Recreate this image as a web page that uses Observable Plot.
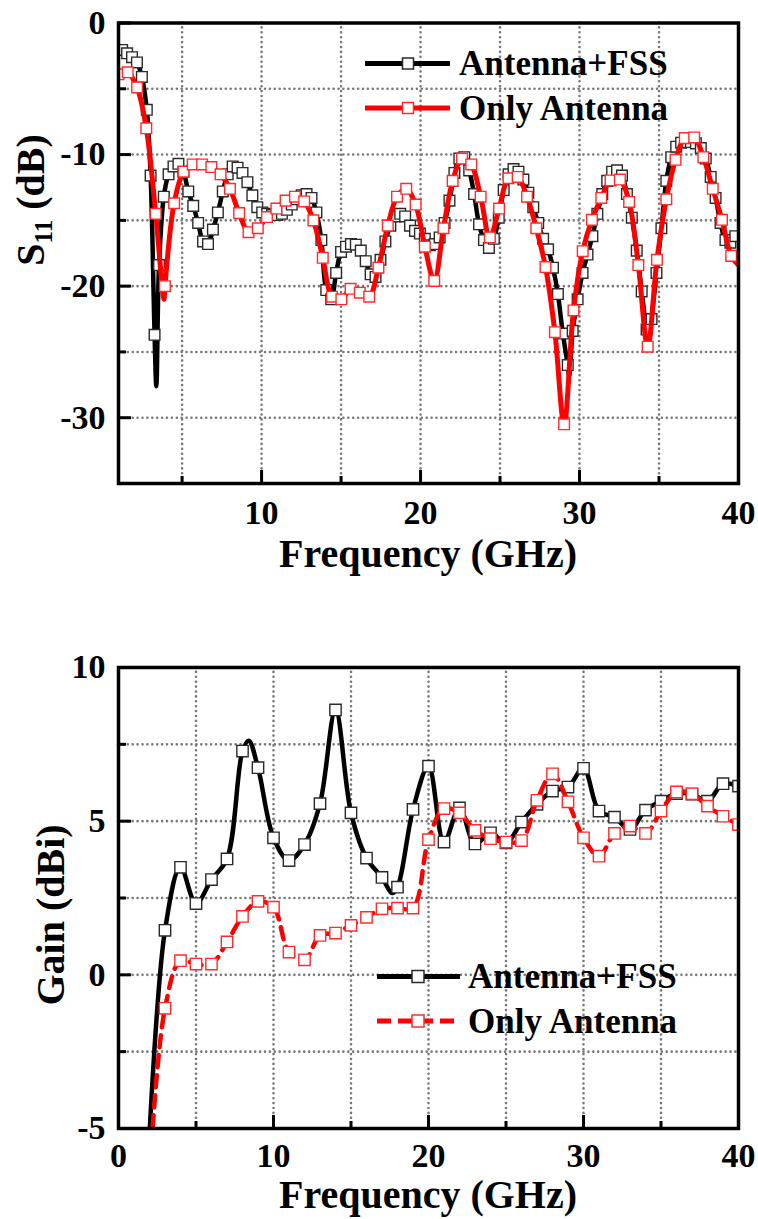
<!DOCTYPE html>
<html><head><meta charset="utf-8">
<script src="https://cdn.jsdelivr.net/npm/d3@7"></script>
<script src="https://cdn.jsdelivr.net/npm/@observablehq/plot@0.6"></script>
<style>
html,body{margin:0;padding:0;background:#fff;}
#chart{width:758px;}
#chart svg{display:block;}
</style></head><body><div id="chart"></div>
<script>
const FONT = "'Liberation Serif','Times New Roman',serif";
const seriesNames = ["Antenna+FSS", "Only Antenna"];

// ---------- Top panel: S11 (dB) ----------
const s11FssFreq = [1.23,1.54,1.85,2.16,2.47,2.78,3.02,3.27,3.55,3.85,4.15,4.46,4.77,5.08,5.39,5.70,6.01,6.32,6.63,6.94,7.25,7.56,7.87,8.18,8.49,8.80,9.11,9.42,9.73,10.04,10.35,10.66,10.97,11.28,11.59,11.90,12.21,12.52,12.83,13.14,13.45,13.76,14.07,14.38,14.69,15.00,15.31,15.62,15.93,16.24,16.55,16.86,17.17,17.48,17.79,18.10,18.41,18.72,19.03,19.34,19.65,19.96,20.27,20.58,20.89,21.20,21.51,21.82,22.13,22.44,22.75,23.06,23.37,23.68,23.99,24.30,24.61,24.92,25.23,25.54,25.85,26.16,26.47,26.78,27.09,27.40,27.71,28.02,28.33,28.64,28.95,29.26,29.57,29.88,30.19,30.50,30.81,31.12,31.43,31.74,32.05,32.36,32.67,32.98,33.29,33.60,33.91,34.22,34.53,34.84,35.15,35.46,35.77,36.08,36.39,36.70,37.01,37.32,37.63,37.94,38.25,38.56,38.87,39.18,39.49,39.80];
const s11FssDb = [-2.05,-2.3,-2.6,-3.0,-4.1,-6.6,-11.6,-23.7,-18.4,-13.2,-11.5,-10.9,-10.7,-11.3,-12.8,-13.9,-15.2,-16.6,-16.8,-15.7,-14.4,-12.8,-11.5,-10.9,-11.0,-11.4,-12.1,-13.1,-14.0,-14.4,-14.5,-14.6,-14.6,-14.5,-14.2,-13.8,-13.4,-13.1,-13.0,-13.3,-14.4,-16.5,-20.3,-21.0,-19.0,-17.4,-17.0,-16.8,-16.85,-17.3,-18.1,-19.1,-19.3,-18.0,-16.6,-15.4,-14.7,-14.5,-14.7,-15.4,-15.8,-16.0,-16.4,-16.9,-16.8,-16.3,-15.2,-13.5,-11.4,-10.3,-10.2,-11.2,-13.0,-15.3,-16.5,-17.1,-16.4,-14.8,-12.7,-11.5,-11.1,-11.3,-11.9,-12.9,-14.0,-15.2,-16.4,-17.2,-18.6,-20.6,-23.6,-26.0,-23.4,-21.0,-19.0,-17.6,-16.2,-14.5,-13.0,-12.0,-11.3,-11.2,-11.6,-13.0,-14.8,-17.3,-20.4,-23.3,-22.5,-19.0,-15.6,-12.0,-10.2,-9.4,-9.1,-9.05,-9.05,-9.15,-9.5,-10.3,-11.7,-13.3,-15.2,-16.5,-16.7,-16.2];
// unmarked line vertices (curve ends and sharp minima between markers)
const s11FssExtraFreq = [1.0, 3.38, 29.35, 34.37, 40];
const s11FssExtraDb = [-1.9, -27.6, -26.8, -24.0, -16.4];

const s11AntFreq = [1.00,1.58,2.17,2.75,3.34,3.92,4.50,5.09,5.67,6.26,6.84,7.42,8.01,8.59,9.18,9.76,10.34,10.93,11.51,12.10,12.68,13.26,13.85,14.43,15.02,15.60,16.18,16.77,17.35,17.94,18.52,19.10,19.69,20.27,20.86,21.44,22.02,22.61,23.19,23.78,24.36,24.94,25.53,26.11,26.70,27.28,27.86,28.45,29.03,29.62,30.20,30.78,31.37,31.95,32.54,33.12,33.70,34.29,34.87,35.46,36.04,36.62,37.21,37.79,38.38,38.96,39.54];
const s11AntDb = [-3.9,-3.75,-4.9,-8.0,-14.5,-20.0,-13.7,-11.3,-10.75,-10.75,-10.95,-11.5,-12.6,-14.45,-15.9,-15.6,-14.75,-14.1,-13.5,-13.2,-13.56,-15.0,-17.85,-20.8,-21.0,-20.2,-20.5,-20.8,-18.6,-15.4,-13.2,-12.6,-13.8,-17.0,-19.6,-15.6,-12.0,-10.3,-10.75,-13.2,-16.3,-14.1,-11.8,-11.7,-13.2,-15.6,-18.55,-23.5,-30.5,-21.85,-17.34,-14.96,-13.3,-11.97,-11.9,-13.6,-18.4,-24.6,-18.0,-13.4,-10.4,-8.75,-8.7,-10.2,-12.6,-14.96,-17.7];
const s11AntExtraFreq = [3.86, 40];
const s11AntExtraDb = [-21.0, -18.4];

const topXDomain = [1, 40], topYDomain = [-35, 0];
const topXTicks = [10, 20, 30, 40], topXMinor = [5, 15, 25, 35];
const topYTicks = [0, -10, -20, -30], topYMinor = [-5, -15, -25];
const topXGrid = [5, 10, 15, 20, 25, 30, 35], topYGrid = [-5, -10, -15, -20, -25, -30];

// ---------- Bottom panel: Gain (dBi) ----------
const gainFreq = [3,4,5,6,7,8,9,10,11,12,13,14,15,16,17,18,19,20,21,22,23,24,25,26,27,28,29,30,31,32,33,34,35,36,37,38,39,40];
const gainFss = [1.45,3.5,2.32,3.1,3.77,7.28,6.74,4.46,3.72,4.24,5.57,8.62,5.27,3.8,3.17,2.85,5.38,6.79,4.32,5.43,4.26,4.62,4.29,4.97,5.55,5.98,6.11,6.72,5.33,5.13,4.73,5.36,5.65,5.9,5.88,5.65,6.22,6.14];
const gainAnt = [-1.09,0.46,0.35,0.35,1.07,1.9,2.39,2.2,0.74,0.49,1.28,1.36,1.61,1.87,2.15,2.17,2.17,4.4,5.41,5.27,4.7,4.43,4.32,4.37,5.68,6.54,5.63,4.46,3.86,4.6,4.84,4.6,5.33,5.95,5.89,5.49,5.16,4.89];
// unmarked line vertices: start below the axis floor, and peaks/dips between markers
const gainFssExtraFreq = [1.95, 8.4, 17.65], gainFssExtraVal = [-5.7, 7.62, 2.66];
const gainAntExtraFreq = [2.12], gainAntExtraVal = [-5.6];

const botXDomain = [0, 40], botYDomain = [-5, 10];
const botXTicks = [0, 10, 20, 30, 40], botXMinor = [5, 15, 25, 35];
const botYTicks = [-5, 0, 5, 10], botYMinor = [-2.5, 2.5, 7.5];
const botXGrid = [5, 10, 15, 20, 25, 30, 35], botYGrid = [-2.5, 0, 2.5, 5, 7.5];

// ---------- helpers ----------
const zip = (fs, vs) => fs.map((f, i) => ({f, v: vs[i]}));
const lineOf = (a, b) => a.concat(b).sort((p, q) => p.f - q.f);

const BLACK = "#000", RED = "#ff0000", BLACK_MK = "#2a2a2a", RED_MK = "#ff2b2b";
const gridStyle = {stroke: "#777", strokeOpacity: 1, strokeWidth: 2.6, strokeDasharray: "0,4.9", strokeLinecap: "round"};
const TICK_FS = 34;

function axesMarks(xMaj, xMin, yMaj, yMin, xGrid, yGrid, xPad) {
  return {
    grid: [
      Plot.gridX(xGrid, gridStyle),
      Plot.gridY(yGrid, gridStyle)
    ],
    axes: [
      Plot.axisX(xMaj, {anchor: "bottom", tickSize: 13, dy: -13, strokeWidth: 3, tickFormat: () => "", label: null}),
      Plot.axisX(xMin, {anchor: "bottom", tickSize: 7, dy: -7, strokeWidth: 3, tickFormat: () => "", label: null}),
      Plot.axisY(yMaj, {anchor: "left", tickSize: 13, dx: 13, strokeWidth: 3, tickFormat: () => "", label: null}),
      Plot.axisY(yMin, {anchor: "left", tickSize: 8, dx: 8, strokeWidth: 3, tickFormat: () => "", label: null}),
      Plot.axisX(xMaj, {anchor: "bottom", tickSize: 0, tickPadding: xPad, tickFormat: d => String(d), label: null,
        fontSize: TICK_FS, fontWeight: "bold", fontFamily: FONT, fill: "#000"}),
      Plot.axisY(yMaj, {anchor: "left", tickSize: 0, tickPadding: 13, tickFormat: d => String(d), label: null,
        fontSize: TICK_FS, fontWeight: "bold", fontFamily: FONT, fill: "#000"})
    ]
  };
}

function addText(svg, x, y, txt, size, opts = {}) {
  const t = svg.append("text")
    .attr("x", x).attr("y", y)
    .attr("font-family", FONT).attr("font-weight", "bold")
    .attr("font-size", size).attr("fill", "#000")
    .attr("text-anchor", opts.anchor || "start");
  if (opts.transform) t.attr("transform", opts.transform).attr("x", 0).attr("y", 0);
  if (txt != null) t.text(txt);
  return t;
}

function legendRow(svg, x0, x1, xm, y, color, dash, label, side, tx, fsz) {
  svg.append("line").attr("x1", x0).attr("x2", x1).attr("y1", y).attr("y2", y)
    .attr("stroke", color).attr("stroke-width", 5).attr("stroke-dasharray", dash || null);
  svg.append("rect").attr("x", xm - side / 2).attr("y", y - side / 2).attr("width", side).attr("height", side)
    .attr("fill", "#fff").attr("stroke", color === BLACK ? BLACK_MK : RED_MK).attr("stroke-width", 1.5);
  addText(svg, tx, y + 0.33 * fsz, label, fsz);
}

// ---------- TOP PLOT ----------
const fssPts = zip(s11FssFreq, s11FssDb);
const antPts = zip(s11AntFreq, s11AntDb);
const fssLine = lineOf(fssPts, zip(s11FssExtraFreq, s11FssExtraDb));
const antLine = lineOf(antPts, zip(s11AntExtraFreq, s11AntExtraDb));

const ta = axesMarks(topXTicks, topXMinor, topYTicks, topYMinor, topXGrid, topYGrid, 16);
const topPlot = Plot.plot({
  width: 758, height: 590,
  marginLeft: 118, marginRight: 20, marginTop: 22.5, marginBottom: 107,
  style: {background: "#fff", fontFamily: FONT, overflow: "visible"},
  x: {domain: topXDomain}, y: {domain: topYDomain},
  marks: [
    ...ta.grid,
    Plot.line(fssLine, {x: "f", y: "v", stroke: BLACK, strokeWidth: 4.5, curve: "catmull-rom", clip: true}),
    Plot.dot(fssPts, {x: "f", y: "v", symbol: "square", r: 6, fill: "#fff", stroke: BLACK_MK, strokeWidth: 1.4, clip: true}),
    Plot.line(antLine, {x: "f", y: "v", stroke: RED, strokeWidth: 5, curve: "catmull-rom", clip: true}),
    Plot.dot(antPts, {x: "f", y: "v", symbol: "square", r: 6, fill: "#fff", stroke: RED_MK, strokeWidth: 1.4, clip: true}),
    Plot.frame({stroke: "#000", strokeWidth: 3.5}),
    ...ta.axes
  ]
});

// ---------- BOTTOM PLOT ----------
const gFssPts = zip(gainFreq, gainFss);
const gAntPts = zip(gainFreq, gainAnt);
const gFssLine = lineOf(gFssPts, zip(gainFssExtraFreq, gainFssExtraVal));
const gAntLine = lineOf(gAntPts, zip(gainAntExtraFreq, gainAntExtraVal));

const ba = axesMarks(botXTicks, botXMinor, botYTicks, botYMinor, botXGrid, botYGrid, 14);
const bottomPlot = Plot.plot({
  width: 758, height: 629,
  marginLeft: 118, marginRight: 20, marginTop: 77, marginBottom: 91,
  style: {background: "#fff", fontFamily: FONT, overflow: "visible"},
  x: {domain: botXDomain}, y: {domain: botYDomain},
  marks: [
    ...ba.grid,
    Plot.line(gFssLine, {x: "f", y: "v", stroke: BLACK, strokeWidth: 4.5, curve: "catmull-rom", clip: true}),
    Plot.dot(gFssPts, {x: "f", y: "v", symbol: "square", r: 6.4, fill: "#fff", stroke: BLACK_MK, strokeWidth: 1.4, clip: true}),
    Plot.line(gAntLine, {x: "f", y: "v", stroke: RED, strokeWidth: 4.5, strokeDasharray: "12,8", curve: "catmull-rom", clip: true}),
    Plot.dot(gAntPts, {x: "f", y: "v", symbol: "square", r: 6.4, fill: "#fff", stroke: RED_MK, strokeWidth: 1.4, clip: true}),
    Plot.frame({stroke: "#000", strokeWidth: 3.5}),
    ...ba.axes
  ]
});

// ---------- titles and legends ----------
const st = d3.select(topPlot);
addText(st, 428, 567, "Frequency (GHz)", 40, {anchor: "middle"});
const yl = addText(st, 0, 0, null, 40, {anchor: "middle", transform: "translate(44,200) rotate(-90)"});
yl.append("tspan").text("S");
yl.append("tspan").attr("font-size", 25).attr("dy", 8).text("11");
yl.append("tspan").attr("dy", -8).text(" (dB)");
legendRow(st, 365, 450, 408, 63.5, BLACK, null, seriesNames[0], 11, 459, 35);
legendRow(st, 365, 450, 408, 108, RED, null, seriesNames[1], 11, 459, 35);

const sb = d3.select(bottomPlot);
addText(sb, 428, 618, "Frequency (GHz)", 40, {anchor: "middle"});
addText(sb, 0, 0, "Gain (dBi)", 40, {anchor: "middle", transform: "translate(64,325) rotate(-90)"});
legendRow(sb, 377, 460, 418, 386.5, BLACK, null, seriesNames[0], 12, 468, 35);
legendRow(sb, 377, 460, 418, 431, RED, "14,7", seriesNames[1], 12, 468, 35);

const chart = document.getElementById("chart");
chart.appendChild(topPlot);
chart.appendChild(bottomPlot);
</script>
</body></html>
